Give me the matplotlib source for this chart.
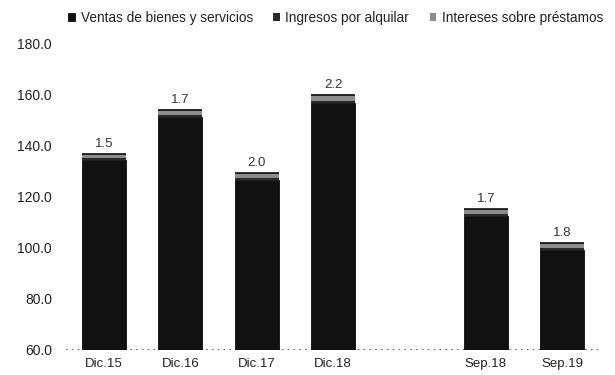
import matplotlib
matplotlib.use("Agg")
import matplotlib.pyplot as plt
import numpy as np

plt.rcParams['font.family'] = ['Liberation Sans', 'DejaVu Sans']

categories = ["Dic.15", "Dic.16", "Dic.17", "Dic.18", "Sep.18", "Sep.19"]
ventas = [134.2, 151.2, 126.2, 156.6, 112.4, 99.0]
ingresos = [0.8, 0.8, 0.8, 0.8, 0.8, 0.8]
intereses = [1.5, 1.7, 2.0, 2.2, 1.7, 1.8]
labels = ["1.5", "1.7", "2.0", "2.2", "1.7", "1.8"]

fig = plt.figure(figsize=(6.15, 3.75), dpi=100)
ax = fig.add_axes([0.107, 0.068, 0.869, 0.817])

# positions: gap between the December series and the September series
pos = np.array([i if i < 4 else i + 1 for i in range(len(categories))], dtype=float)
w = 0.58

ax.bar(pos, ventas, w, bottom=0, color="#111111", edgecolor="#0a0a0a", lw=0.6,
       label="Ventas de bienes y servicios")
b2 = np.array(ventas)
ax.bar(pos, ingresos, w, bottom=b2, color="#2a2a2a", edgecolor="none",
       label="Ingresos por alquilar")
b3 = b2 + np.array(ingresos)
ax.bar(pos, intereses, w, bottom=b3, color="#8c8c8c", edgecolor="none",
       label="Intereses sobre préstamos")
tops = b3 + np.array(intereses)
ax.hlines(tops, pos - w / 2, pos + w / 2, colors="#0a0a0a", lw=1.2)

for x, t, l in zip(pos, tops, labels):
    ax.annotate(l, (x, t), xytext=(0, 3), textcoords="offset points",
                ha="center", va="bottom", fontsize=9.5, color="#333333")

ax.set_ylim(60, 180)
ax.set_xlim(-0.5, 6.5)
ax.set_yticks(np.arange(60, 181, 20))
ax.set_yticklabels([f"{v:.1f}" for v in np.arange(60, 181, 20)], fontsize=10,
                   color="#222222")
ax.set_xticks(pos)
ax.set_xticklabels(categories, fontsize=9.5, color="#222222")
ax.tick_params(axis="x", length=0, pad=6)
ax.tick_params(axis="y", length=0, pad=10)
for s in ax.spines.values():
    s.set_visible(False)
ax.axhline(60, color="#444444", lw=1.2, ls=(0, (1, 2.5)), zorder=0)

handles, lbls = ax.get_legend_handles_labels()
fig.legend(handles, lbls, loc="center", bbox_to_anchor=(0.546, 0.953), ncol=3,
           frameon=False, fontsize=9.8, handlelength=0.5, handleheight=0.5,
           handletextpad=0.4, columnspacing=1.5, borderaxespad=0, borderpad=0,
           labelcolor="#222222")

fig.savefig("out.png", dpi=100)
